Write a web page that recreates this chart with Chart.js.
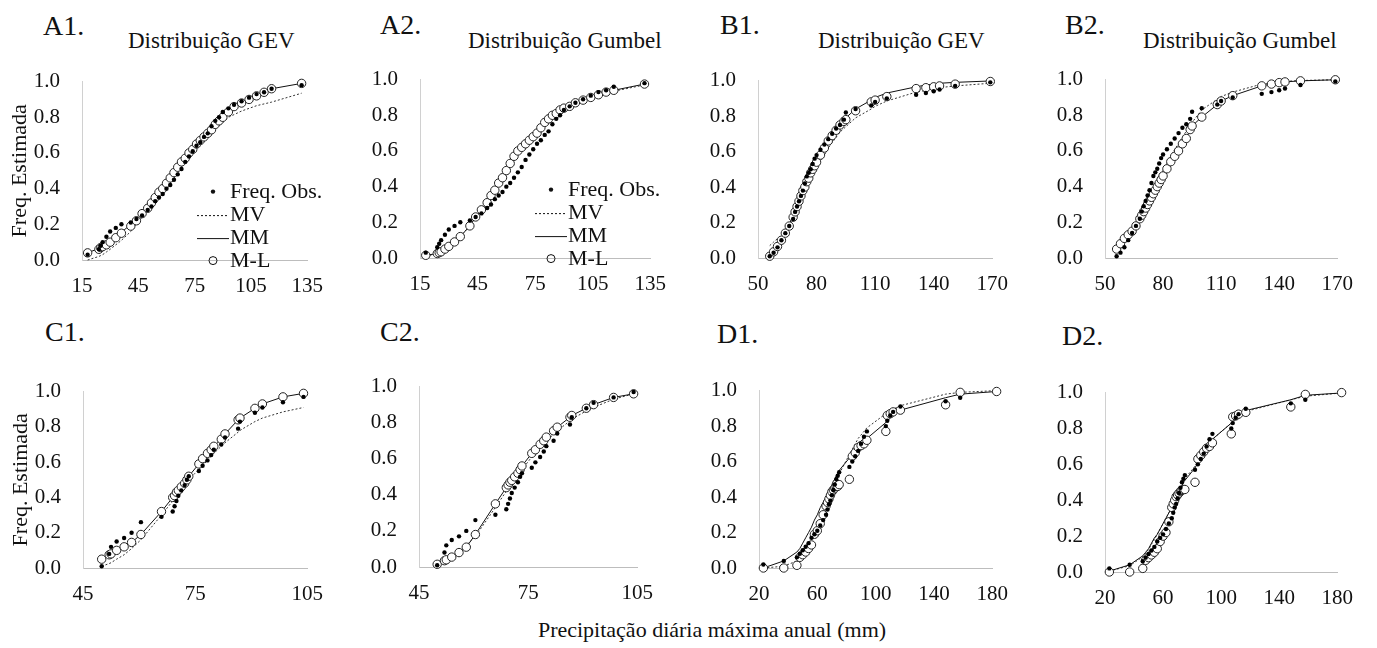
<!DOCTYPE html>
<html lang="pt">
<head>
<meta charset="UTF-8">
<title>Freq. Estimada</title>
<script src="https://cdn.jsdelivr.net/npm/chart.js@4.4.0/dist/chart.umd.min.js"></script>
<style>
    body { margin: 0; background: #fff; }
    #wrap { position: relative; width: 1377px; height: 648px; background: #fff; overflow: hidden; }
    #wrap canvas { position: absolute; }
    .txt { position: absolute; font-family: "Liberation Serif", "Times New Roman", serif; color: #111; white-space: nowrap; line-height: 1; }
    .lbl { font-size: 28px; }
    .sub { font-size: 23px; }
</style>
</head>
<body>
<div id="wrap">
    <div class="txt lbl" style="left:43px;top:12px">A1.</div>
    <div class="txt lbl" style="left:380px;top:11px">A2.</div>
    <div class="txt lbl" style="left:720px;top:11px">B1.</div>
    <div class="txt lbl" style="left:1065px;top:11px">B2.</div>
    <div class="txt lbl" style="left:45px;top:318px">C1.</div>
    <div class="txt lbl" style="left:380px;top:318px">C2.</div>
    <div class="txt lbl" style="left:717px;top:320px">D1.</div>
    <div class="txt lbl" style="left:1062px;top:322px">D2.</div>
    <div class="txt sub" style="left:128px;top:29px">Distribuição GEV</div>
    <div class="txt sub" style="left:468px;top:29px">Distribuição Gumbel</div>
    <div class="txt sub" style="left:818px;top:29px">Distribuição GEV</div>
    <div class="txt sub" style="left:1143px;top:29px">Distribuição Gumbel</div>
    <div class="txt" style="left:712px;top:619px;font-size:22px;transform:translateX(-50%)">Precipitação diária máxima anual (mm)</div>
</div>
<script>
// ---- data ----
var legendNames = ["Freq. Obs.", "MV", "MM", "M-L"];
var yTicks = [0, 0.2, 0.4, 0.6, 0.8, 1.0];

// station A
var aTicks = [15, 45, 75, 105, 135];
var aX   = [18, 24, 25, 26, 28, 30, 33, 36, 41, 44, 47, 50, 52, 54, 56, 58, 60, 62, 64, 66, 68, 70, 72, 74, 76, 78, 80, 82, 84, 86, 88, 90, 93, 96, 100, 104, 108, 112, 116, 132];
var aObs = [0.03, 0.06, 0.08, 0.10, 0.13, 0.16, 0.18, 0.20, 0.21, 0.23, 0.25, 0.28, 0.30, 0.33, 0.35, 0.37, 0.40, 0.42, 0.45, 0.48, 0.51, 0.55, 0.58, 0.61, 0.64, 0.66, 0.69, 0.71, 0.75, 0.78, 0.80, 0.83, 0.85, 0.87, 0.89, 0.91, 0.93, 0.94, 0.96, 0.98];
var a1MV = [0.0, 0.02, 0.025, 0.03, 0.045, 0.06, 0.085, 0.11, 0.16, 0.20, 0.24, 0.28, 0.31, 0.34, 0.37, 0.40, 0.43, 0.46, 0.49, 0.52, 0.54, 0.57, 0.59, 0.62, 0.64, 0.66, 0.68, 0.70, 0.72, 0.74, 0.755, 0.77, 0.80, 0.815, 0.835, 0.85, 0.865, 0.875, 0.885, 0.935];
var a1MM = [0.04, 0.065, 0.07, 0.075, 0.09, 0.10, 0.13, 0.155, 0.20, 0.225, 0.26, 0.30, 0.32, 0.35, 0.38, 0.40, 0.43, 0.46, 0.49, 0.52, 0.55, 0.57, 0.60, 0.62, 0.65, 0.67, 0.69, 0.71, 0.73, 0.75, 0.78, 0.80, 0.84, 0.86, 0.88, 0.905, 0.925, 0.945, 0.96, 0.99];
var a1ML = [0.04, 0.06, 0.07, 0.075, 0.085, 0.10, 0.125, 0.15, 0.19, 0.22, 0.26, 0.29, 0.32, 0.35, 0.38, 0.40, 0.43, 0.46, 0.49, 0.52, 0.55, 0.57, 0.60, 0.62, 0.65, 0.67, 0.69, 0.71, 0.73, 0.76, 0.78, 0.80, 0.83, 0.86, 0.88, 0.90, 0.92, 0.94, 0.96, 0.99];
var a2MV = [0.01, 0.025, 0.03, 0.035, 0.05, 0.065, 0.09, 0.12, 0.18, 0.23, 0.27, 0.31, 0.35, 0.38, 0.42, 0.45, 0.49, 0.53, 0.56, 0.59, 0.62, 0.64, 0.66, 0.68, 0.70, 0.73, 0.75, 0.77, 0.79, 0.80, 0.82, 0.83, 0.845, 0.86, 0.875, 0.89, 0.905, 0.92, 0.935, 0.97];
var a2MM = [0.015, 0.025, 0.03, 0.035, 0.05, 0.065, 0.09, 0.12, 0.18, 0.23, 0.27, 0.31, 0.35, 0.38, 0.42, 0.45, 0.49, 0.53, 0.57, 0.60, 0.62, 0.64, 0.66, 0.68, 0.70, 0.73, 0.76, 0.78, 0.80, 0.81, 0.83, 0.84, 0.85, 0.87, 0.885, 0.90, 0.915, 0.93, 0.94, 0.975];
var a2ML = [0.015, 0.025, 0.03, 0.035, 0.05, 0.065, 0.09, 0.12, 0.18, 0.23, 0.27, 0.31, 0.35, 0.38, 0.42, 0.45, 0.49, 0.53, 0.57, 0.60, 0.62, 0.64, 0.66, 0.68, 0.70, 0.73, 0.76, 0.78, 0.80, 0.81, 0.83, 0.84, 0.85, 0.87, 0.885, 0.90, 0.915, 0.93, 0.94, 0.975];

// station B
var bTicks = [50, 80, 110, 140, 170];
var bX   = [56, 58, 60, 62, 64, 66, 68, 69, 70, 71, 72, 73, 74, 75, 76, 77, 78, 79, 80, 82, 84, 86, 88, 90, 92, 94, 95, 100, 108, 110, 116, 131, 136, 140, 143, 151, 169];
var bObs = [0.01, 0.03, 0.06, 0.10, 0.14, 0.18, 0.22, 0.26, 0.29, 0.32, 0.35, 0.38, 0.42, 0.46, 0.48, 0.50, 0.53, 0.56, 0.58, 0.61, 0.64, 0.67, 0.70, 0.73, 0.75, 0.78, 0.82, 0.84, 0.86, 0.88, 0.90, 0.92, 0.93, 0.94, 0.95, 0.97, 0.99];
var b1MV = [0.07, 0.09, 0.11, 0.13, 0.16, 0.19, 0.23, 0.25, 0.27, 0.30, 0.32, 0.35, 0.37, 0.40, 0.42, 0.45, 0.47, 0.49, 0.51, 0.55, 0.58, 0.62, 0.65, 0.68, 0.71, 0.73, 0.74, 0.79, 0.84, 0.855, 0.885, 0.935, 0.945, 0.955, 0.96, 0.97, 0.985];
var b1MM = [0.01, 0.04, 0.07, 0.11, 0.15, 0.19, 0.24, 0.27, 0.30, 0.33, 0.36, 0.39, 0.41, 0.44, 0.46, 0.49, 0.51, 0.53, 0.55, 0.59, 0.63, 0.67, 0.70, 0.73, 0.76, 0.78, 0.79, 0.84, 0.89, 0.905, 0.93, 0.965, 0.975, 0.98, 0.985, 0.99, 0.998];
var b1ML = [0.01, 0.035, 0.065, 0.10, 0.14, 0.18, 0.23, 0.26, 0.29, 0.32, 0.35, 0.38, 0.40, 0.43, 0.45, 0.48, 0.50, 0.52, 0.54, 0.58, 0.62, 0.66, 0.69, 0.72, 0.75, 0.77, 0.78, 0.83, 0.88, 0.89, 0.91, 0.955, 0.96, 0.965, 0.97, 0.98, 0.995];
var b2MV = [0.04, 0.06, 0.09, 0.12, 0.15, 0.19, 0.23, 0.25, 0.27, 0.29, 0.31, 0.34, 0.36, 0.38, 0.40, 0.42, 0.45, 0.47, 0.49, 0.53, 0.57, 0.61, 0.64, 0.68, 0.71, 0.74, 0.76, 0.83, 0.89, 0.905, 0.93, 0.975, 0.982, 0.988, 0.99, 0.995, 0.999];
var b2MM = [0.05, 0.08, 0.11, 0.13, 0.15, 0.18, 0.22, 0.24, 0.26, 0.28, 0.30, 0.32, 0.34, 0.36, 0.38, 0.40, 0.42, 0.44, 0.46, 0.50, 0.54, 0.57, 0.60, 0.64, 0.67, 0.72, 0.74, 0.79, 0.86, 0.88, 0.91, 0.965, 0.975, 0.983, 0.987, 0.993, 0.999];
var b2ML = [0.05, 0.08, 0.11, 0.13, 0.15, 0.18, 0.22, 0.24, 0.26, 0.28, 0.30, 0.32, 0.34, 0.36, 0.38, 0.40, 0.42, 0.44, 0.46, 0.50, 0.54, 0.57, 0.60, 0.64, 0.67, 0.72, 0.74, 0.79, 0.86, 0.88, 0.91, 0.965, 0.975, 0.983, 0.987, 0.993, 0.999];

// station C
var cTicks = [45, 75, 105];
var cX   = [50, 52, 52.5, 54, 56, 58, 60.5, 66, 69, 69.5, 70, 70.5, 71.3, 72.2, 72.8, 73.3, 76, 77, 78.3, 79.3, 80, 82, 83, 86.5, 87, 91, 93, 98.5, 104];
var cObs = [0.01, 0.08, 0.12, 0.15, 0.17, 0.20, 0.26, 0.29, 0.32, 0.35, 0.38, 0.41, 0.44, 0.47, 0.50, 0.52, 0.55, 0.58, 0.61, 0.64, 0.67, 0.70, 0.74, 0.79, 0.83, 0.88, 0.91, 0.94, 0.97];
var c1MV = [0.01, 0.025, 0.03, 0.05, 0.075, 0.11, 0.16, 0.30, 0.38, 0.39, 0.41, 0.42, 0.44, 0.46, 0.48, 0.50, 0.56, 0.58, 0.61, 0.63, 0.65, 0.69, 0.71, 0.77, 0.78, 0.83, 0.85, 0.885, 0.91];
var c1MM = [0.05, 0.075, 0.08, 0.10, 0.12, 0.145, 0.19, 0.32, 0.40, 0.41, 0.43, 0.44, 0.46, 0.48, 0.50, 0.52, 0.59, 0.62, 0.65, 0.67, 0.69, 0.73, 0.76, 0.84, 0.85, 0.905, 0.93, 0.97, 0.99];
var c1ML = [0.05, 0.075, 0.08, 0.10, 0.12, 0.145, 0.19, 0.32, 0.40, 0.41, 0.43, 0.44, 0.46, 0.48, 0.50, 0.52, 0.59, 0.62, 0.65, 0.67, 0.69, 0.73, 0.76, 0.84, 0.85, 0.905, 0.93, 0.97, 0.99];
var c2MV = [0.02, 0.04, 0.045, 0.06, 0.085, 0.12, 0.17, 0.33, 0.42, 0.435, 0.45, 0.46, 0.48, 0.50, 0.52, 0.54, 0.61, 0.63, 0.66, 0.68, 0.70, 0.735, 0.755, 0.81, 0.82, 0.865, 0.885, 0.93, 0.96];
var c2MM = [0.015, 0.035, 0.04, 0.055, 0.08, 0.11, 0.18, 0.35, 0.44, 0.455, 0.47, 0.48, 0.50, 0.52, 0.54, 0.56, 0.63, 0.65, 0.68, 0.70, 0.72, 0.755, 0.775, 0.83, 0.84, 0.88, 0.90, 0.94, 0.96];
var c2ML = [0.015, 0.035, 0.04, 0.055, 0.08, 0.11, 0.18, 0.35, 0.44, 0.455, 0.47, 0.48, 0.50, 0.52, 0.54, 0.56, 0.63, 0.65, 0.68, 0.70, 0.72, 0.755, 0.775, 0.83, 0.84, 0.88, 0.90, 0.94, 0.96];

// station D
var dTicks = [20, 60, 100, 140, 180];
var dX   = [23, 37, 46, 48, 50, 52, 54, 56, 58, 60, 62, 64, 66, 67, 68, 69, 70, 71, 72, 73, 74, 75, 82, 84, 86, 88, 90, 92, 94, 107, 108, 110, 112, 117, 148, 158, 183];
var dObs = [0.02, 0.04, 0.06, 0.08, 0.10, 0.12, 0.14, 0.17, 0.19, 0.21, 0.24, 0.27, 0.30, 0.33, 0.36, 0.38, 0.41, 0.44, 0.47, 0.50, 0.52, 0.54, 0.57, 0.60, 0.63, 0.66, 0.70, 0.74, 0.77, 0.80, 0.83, 0.86, 0.88, 0.91, 0.94, 0.96, 0.98];
var d1MV = [0.0, 0.01, 0.04, 0.06, 0.08, 0.10, 0.13, 0.16, 0.19, 0.23, 0.27, 0.31, 0.35, 0.37, 0.39, 0.41, 0.43, 0.45, 0.47, 0.49, 0.51, 0.53, 0.64, 0.67, 0.70, 0.73, 0.75, 0.77, 0.79, 0.87, 0.875, 0.885, 0.895, 0.915, 0.98, 0.99, 1.0];
var d1MM = [0.0, 0.04, 0.09, 0.11, 0.14, 0.17, 0.20, 0.23, 0.27, 0.30, 0.34, 0.37, 0.40, 0.42, 0.44, 0.45, 0.47, 0.49, 0.50, 0.52, 0.53, 0.55, 0.62, 0.64, 0.67, 0.69, 0.71, 0.72, 0.73, 0.82, 0.83, 0.85, 0.86, 0.89, 0.96, 0.98, 0.995];
var d1ML = [0.0, 0.0, 0.015, 0.06, 0.075, 0.09, 0.11, 0.13, 0.19, 0.21, 0.25, 0.30, 0.35, 0.37, 0.39, 0.41, 0.43, 0.44, 0.45, 0.46, 0.46, 0.47, 0.50, 0.63, 0.65, 0.68, 0.69, 0.70, 0.72, 0.77, 0.86, 0.87, 0.88, 0.89, 0.92, 0.99, 0.995];
var d2MV = [0.005, 0.035, 0.085, 0.105, 0.125, 0.155, 0.18, 0.21, 0.24, 0.27, 0.30, 0.33, 0.36, 0.38, 0.40, 0.42, 0.44, 0.45, 0.47, 0.49, 0.50, 0.52, 0.59, 0.62, 0.65, 0.68, 0.70, 0.72, 0.74, 0.83, 0.84, 0.855, 0.87, 0.895, 0.96, 0.98, 0.998];
var d2MM = [0.005, 0.04, 0.09, 0.11, 0.13, 0.16, 0.19, 0.21, 0.24, 0.27, 0.30, 0.33, 0.36, 0.38, 0.40, 0.41, 0.43, 0.45, 0.46, 0.48, 0.50, 0.51, 0.58, 0.61, 0.65, 0.68, 0.70, 0.72, 0.74, 0.83, 0.84, 0.86, 0.87, 0.90, 0.96, 0.985, 0.998];
var d2ML = [0.0, 0.0, 0.02, 0.065, 0.08, 0.095, 0.11, 0.13, 0.17, 0.20, 0.22, 0.28, 0.36, 0.38, 0.40, 0.42, 0.43, 0.44, 0.45, 0.455, 0.46, 0.46, 0.50, 0.63, 0.65, 0.67, 0.69, 0.70, 0.72, 0.77, 0.865, 0.87, 0.88, 0.89, 0.92, 0.99, 1.0];

// ---- drawing ----
var FONT = "'Liberation Serif', 'Times New Roman', serif";
var YW = 75, PT = 15, PR = 25, XH = 45;

// legend drawn inside the plot (A1 / A2 only)
var innerLegend = {
    id: "innerLegend",
    afterDraw: function(chart, args, opts) {
        if (!opts.show) return;
        var ctx = chart.ctx, a = chart.chartArea;
        var x0 = a.left + 131, y0 = a.top + 110;
        ctx.save();
        ctx.font = "22px " + FONT;
        ctx.fillStyle = "#111";
        ctx.strokeStyle = "#111";
        ctx.textBaseline = "middle";
        for (var i = 0; i < legendNames.length; i++) {
            var y = y0 + i * 23;
            ctx.lineWidth = 1;
            ctx.setLineDash([]);
            if (i == 0) {
                ctx.beginPath(); ctx.arc(x0, y, 2.2, 0, Math.PI * 2); ctx.fill();
            } else if (i == 1 || i == 2) {
                if (i == 1) ctx.setLineDash([2, 2]);
                ctx.beginPath(); ctx.moveTo(x0 - 16, y + 1); ctx.lineTo(x0 + 16, y + 1); ctx.stroke();
                ctx.setLineDash([]);
            } else {
                ctx.beginPath(); ctx.arc(x0, y, 4, 0, Math.PI * 2); ctx.stroke();
            }
            ctx.fillText(legendNames[i], x0 + 17, y + 1);
        }
        ctx.restore();
    }
};

function pts(xs, ys) {
    return xs.map(function(v, i) { return {x: v, y: ys[i]}; });
}

function panel(box, xs, obs, mv, mm, ml, ticks, yTitle, showLegend) {
    var L = box[0], R = box[1], T = box[2], B = box[3];
    var cv = document.createElement("canvas");
    var w = YW + (R - L) + PR, h = PT + (B - T) + XH;
    cv.width = w; cv.height = h;
    cv.style.left = (L - YW) + "px";
    cv.style.top = (T - PT) + "px";
    cv.style.width = w + "px";
    cv.style.height = h + "px";
    document.getElementById("wrap").appendChild(cv);

    new Chart(cv, {
        type: "scatter",
        data: {
            datasets: [{
                label: legendNames[0],
                data: pts(xs, obs),
                pointRadius: 2.2,
                pointBackgroundColor: "#000",
                pointBorderWidth: 0,
                showLine: false,
                clip: false,
                order: 0
            }, {
                label: legendNames[1],
                data: pts(xs, mv),
                showLine: true,
                borderColor: "#333",
                borderWidth: 1,
                borderDash: [2, 2],
                pointRadius: 0,
                clip: false,
                order: 3
            }, {
                label: legendNames[2],
                data: pts(xs, mm),
                showLine: true,
                borderColor: "#111",
                borderWidth: 1,
                pointRadius: 0,
                clip: false,
                order: 2
            }, {
                label: legendNames[3],
                data: pts(xs, ml),
                pointRadius: 4.2,
                pointBackgroundColor: "#fff",
                pointBorderColor: "#222",
                pointBorderWidth: 1,
                showLine: false,
                clip: false,
                order: 1
            }]
        },
        options: {
            responsive: false,
            animation: false,
            devicePixelRatio: 1,
            layout: { padding: { top: PT, right: PR, left: 0, bottom: 0 } },
            plugins: {
                legend: { display: false },
                tooltip: { enabled: false },
                innerLegend: { show: showLegend }
            },
            scales: {
                x: {
                    type: "linear",
                    min: ticks[0],
                    max: ticks[ticks.length - 1],
                    afterBuildTicks: function(s) { s.ticks = ticks.map(function(v) { return {value: v}; }); },
                    afterFit: function(s) { s.height = XH; },
                    grid: { display: false, drawTicks: false },
                    border: { display: true, color: "#bdbdbd", width: 1, dash: [2, 1] },
                    ticks: {
                        autoSkip: false, maxRotation: 0, padding: 14,
                        color: "#111", font: { family: FONT, size: 21 },
                        callback: function(v) { return String(v); }
                    }
                },
                y: {
                    min: 0, max: 1,
                    afterBuildTicks: function(s) { s.ticks = yTicks.map(function(v) { return {value: v}; }); },
                    afterFit: function(s) { s.width = YW; },
                    grid: { display: false, drawTicks: false },
                    border: { display: true, color: "#d0d0d0", width: 1 },
                    title: {
                        display: !!yTitle, text: yTitle || "",
                        color: "#111", font: { family: FONT, size: 22 },
                        padding: { top: 0, bottom: 0 }
                    },
                    ticks: {
                        padding: 22,
                        color: "#111", font: { family: FONT, size: 21 },
                        callback: function(v) { return Number(v).toFixed(1); }
                    }
                }
            }
        },
        plugins: [innerLegend]
    });
}

// [left, right, top, bottom] of each plot area on the page
panel([82, 312, 62, 260],   aX, aObs, a1MV, a1MM, a1ML, aTicks, "Freq. Estimada", true);
panel([420, 655, 60, 258],  aX, aObs, a2MV, a2MM, a2ML, aTicks, null, true);
panel([758, 997, 61, 258],  bX, bObs, b1MV, b1MM, b1ML, bTicks, null, false);
panel([1105, 1342, 60, 258], bX, bObs, b2MV, b2MM, b2ML, bTicks, null, false);
panel([83, 312, 372, 568],  cX, cObs, c1MV, c1MM, c1ML, cTicks, "Freq. Estimada", false);
panel([419, 642, 367, 567], cX, cObs, c2MV, c2MM, c2ML, cTicks, null, false);
panel([759, 997, 371, 568], dX, dObs, d1MV, d1MM, d1ML, dTicks, null, false);
panel([1105, 1342, 373, 572], dX, dObs, d2MV, d2MM, d2ML, dTicks, null, false);
</script>
</body>
</html>
